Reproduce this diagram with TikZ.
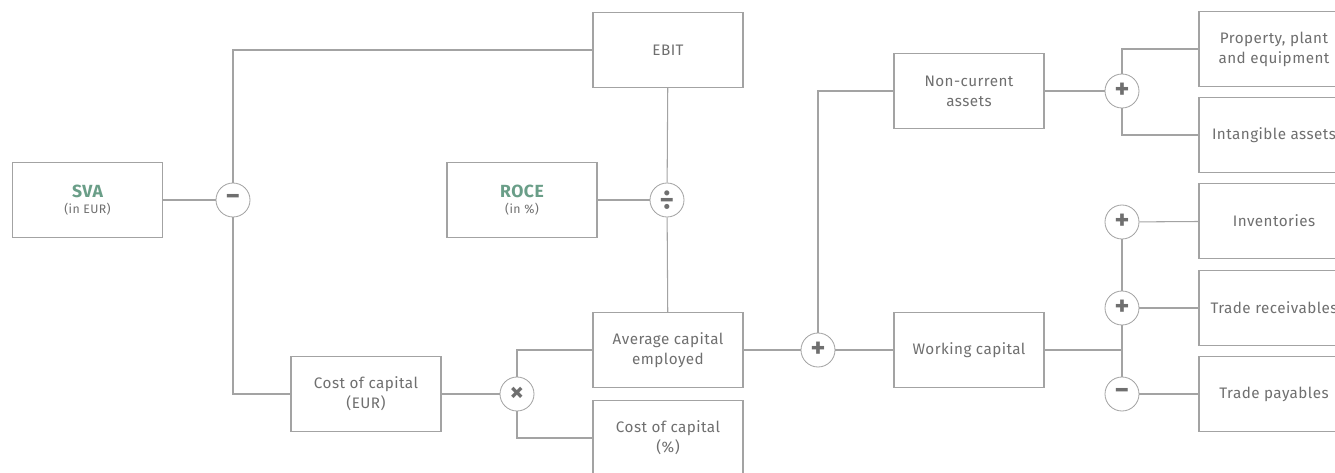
\documentclass[tikz,border=0pt]{standalone}
\usepackage{fontspec}
\setmainfont{Fira Sans}[LetterSpace=3]
\usepackage{tikz}
\usetikzlibrary{positioning, calc}
\definecolor{txtgray}{HTML}{6F6F6F}
\definecolor{lngray}{HTML}{A3A3A3}
\definecolor{svagreen}{HTML}{6A9E88}
\newcommand{\kpi}[1]{{\color{svagreen}\fontsize{15}{17}\selectfont\bfseries #1}}
\newcommand{\unittxt}[1]{{\fontsize{10.5}{12}\selectfont #1}}
\tikzset{
  lnk/.style={draw=lngray, line width=0.9pt},
  blk/.style={draw=lngray, line width=0.9pt, fill=white, align=center, text=txtgray,
    minimum width=4.5cm, minimum height=2.25cm, inner sep=2pt, font=\fontsize{13}{17}\selectfont},
  opr/.style={circle, draw=lngray, line width=0.7pt, fill=white, text=txtgray,
    minimum size=1.02cm, inner sep=0pt, font=\fontsize{24}{24}\selectfont\bfseries}
}

\begin{document}
\begin{tikzpicture}[x=0.03cm, y=-0.03cm]
\clip (0,0) rectangle (1335,473);
\useasboundingbox (0,0) rectangle (1335,473);
% left part
\node[blk] (sva) at (87.5,200) {\kpi{SVA}\\[-3pt]\unittxt{(in EUR)}};
\node[opr] (minus) at (233,200) {−};
\node[blk] (ebit) at (668,50) {EBIT};
\node[blk] (roce) at (522,200) {\kpi{ROCE}\\[-3pt]\unittxt{(in \%)}};
\node[opr] (div) at (667,200) {÷};
\node[blk] (coce) at (366,394) {Cost of capital\\(EUR)};
\node[opr] (mul) at (517,394) {×};
\node[blk] (ace) at (668,350) {Average capital\\employed};
\node[blk] (cocp) at (668,438) {Cost of capital\\(\%)};
% middle part
\node[opr] (sum) at (818,350) {+};
\node[blk] (nca) at (969,91) {Non-current\\assets};
\node[blk] (wc) at (969,350) {Working capital};
% right part
\node[opr] (pnc) at (1122,91) {+};
\node[blk] (ppe) at (1274,49) {Property, plant\\and equipment};
\node[blk] (ia) at (1274,135) {Intangible assets};
\node[opr] (pinv) at (1122,222) {+};
\node[opr] (ptr) at (1122,308) {+};
\node[opr] (mtp) at (1122,394) {−};
\node[blk] (inv) at (1274,221) {Inventories};
\node[blk] (tr) at (1274,308) {Trade receivables};
\node[blk] (tp) at (1274,394) {Trade payables};
\coordinate (jn) at (1122,350);
% connectors
\draw[lnk] (sva) -- (minus);
\draw[lnk] (minus) |- (ebit);
\draw[lnk] (minus) |- (coce);
\draw[lnk] (roce) -- (div);
\draw[lnk] (div) -- (ebit);
\draw[lnk] (div) -- (ace);
\draw[lnk] (coce) -- (mul);
\draw[lnk] (mul) |- (ace);
\draw[lnk] (mul) |- (cocp);
\draw[lnk] (ace) -- (sum);
\draw[lnk] (sum) |- (nca);
\draw[lnk] (sum) -- (wc);
\draw[lnk] (nca) -- (pnc);
\draw[lnk] (pnc) |- (ppe);
\draw[lnk] (pnc) |- (ia);
\draw[lnk] (wc) -- (jn);
\draw[lnk] (pinv) -- (ptr);
\draw[lnk] (ptr) -- (mtp);
\draw[lnk] (pinv) -- (inv);
\draw[lnk] (ptr) -- (tr);
\draw[lnk] (mtp) -- (tp);
\end{tikzpicture}
\end{document}
